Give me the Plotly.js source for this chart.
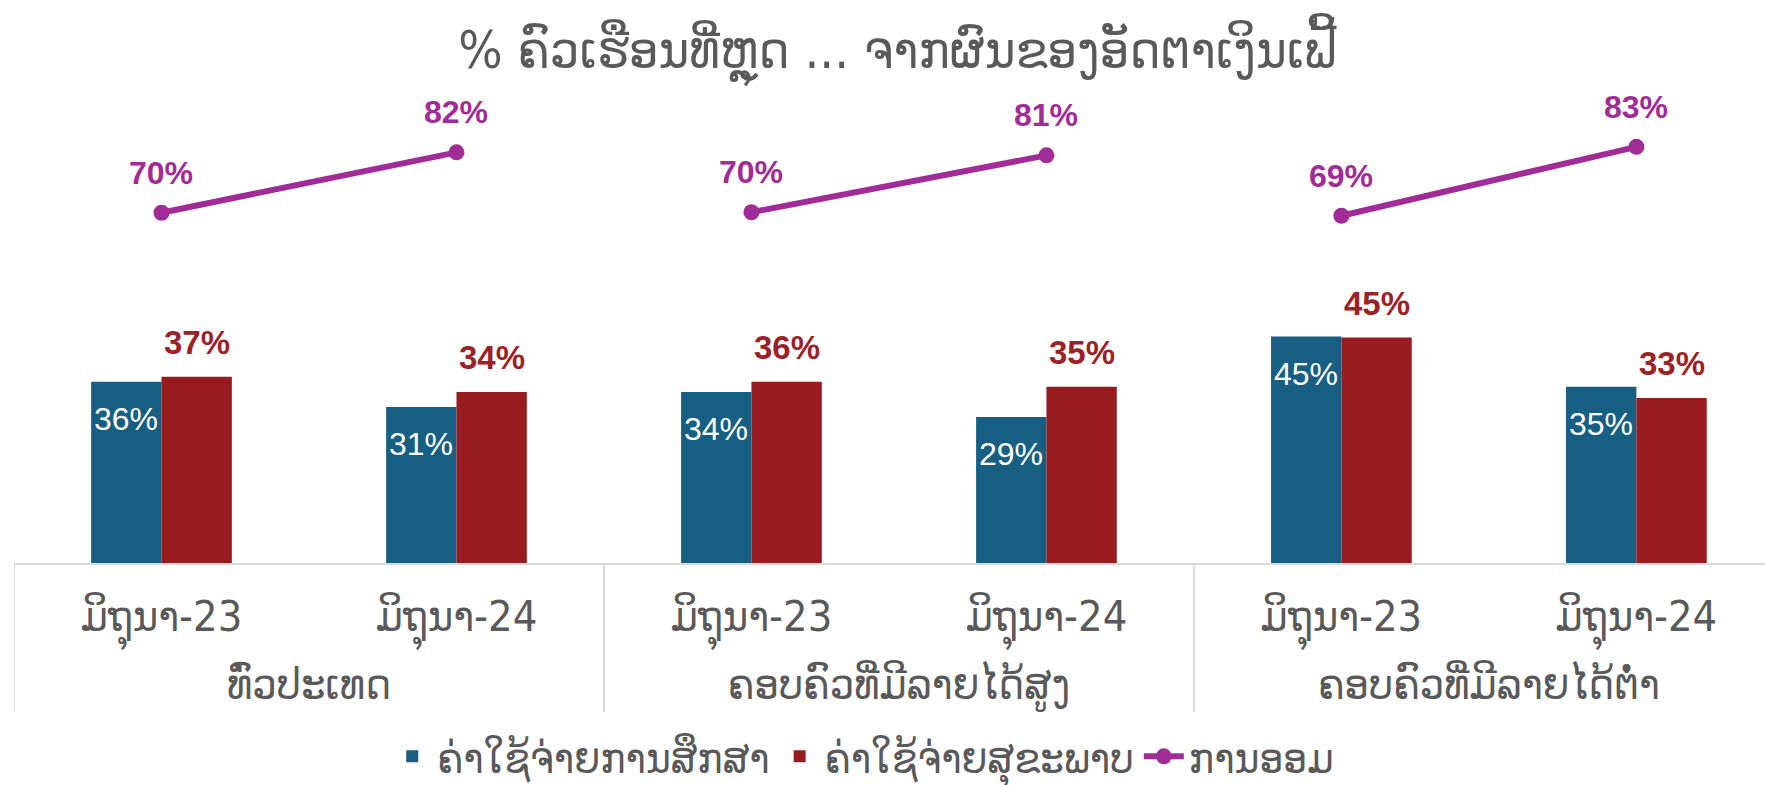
<!DOCTYPE html>
<html>
<head>
<meta charset="utf-8">
<script src="https://cdn.plot.ly/plotly-3.0.1.min.js"></script>
<style>html,body{margin:0;padding:0;background:#fff;}#chart{width:1765px;height:785px;}</style>
</head>
<body>
<div id="chart"></div>
<script>
// ---- data ----
const groups = ['ທົ່ວປະເທດ', 'ຄອບຄົວທີ່ມີລາຍໄດ້ສູງ', 'ຄອບຄົວທີ່ມີລາຍໄດ້ຕ່ຳ'];
const periods = ['ມິຖຸນາ-23', 'ມິຖຸນາ-24'];
const education = [36, 31, 34, 29, 45, 35];          // ຄ່າໃຊ້ຈ່າຍການສຶກສາ
const health = [37, 34, 36, 35, 44.8, 32.8];         // ຄ່າໃຊ້ຈ່າຍສຸຂະພາບ
const savings = [69.6, 81.6, 69.7, 81.0, 69.0, 82.7]; // ການອອມ
const seriesNames = ['ຄ່າໃຊ້ຈ່າຍການສຶກສາ', 'ຄ່າໃຊ້ຈ່າຍສຸຂະພາບ', 'ການອອມ'];
const titleText = '% ຄົວເຮືອນທີ່ຫຼຸດ ... ຈາກຜົນຂອງອັດຕາເງິນເຟີ້';

// ---- styles ----
const BLUE = '#175F82', RED = '#971B1F', PURPLE = '#A12B97', GREY = '#595959', LIGHT = '#D9D9D9';
const LAO = "'Liberation Sans Narrow', 'DejaVu Sans Condensed', 'DejaVu Sans', sans-serif";
const NUM = "'Liberation Sans', Arial, sans-serif";
const BARGAP = 0.523;
const XRANGE = [-0.5, 5.436];
const pct = v => Math.round(v) + '%';

// category keys (group + period), shown with the period as tick label
const xOuter = [], xInner = [];
groups.forEach(g => periods.forEach(p => { xOuter.push(g); xInner.push(p); }));
const xKeys = xOuter.map((g, i) => g + ' | ' + xInner[i]);
const nP = periods.length;
const groupCenters = groups.map((g, gi) => gi * nP + (nP - 1) / 2);
const groupEdges = groups.map((g, gi) => gi * nP - 0.5).concat([groups.length * nP - 0.5]);

const traces = [
  { type: 'bar', name: seriesNames[0], x: xKeys, y: education,
    marker: { color: BLUE }, hoverinfo: 'skip' },
  { type: 'bar', name: seriesNames[1], x: xKeys, y: health,
    marker: { color: RED }, hoverinfo: 'skip' }
];
groups.forEach((g, gi) => {
  const idx = periods.map((p, pi) => gi * nP + pi);
  traces.push({
    type: 'scatter', mode: 'lines+markers', name: seriesNames[2],
    legendgroup: 'sav', showlegend: gi === 0,
    x: idx.map(i => xKeys[i]), y: idx.map(i => savings[i]),
    line: { color: PURPLE, width: 6 }, marker: { color: PURPLE, size: 16 },
    hoverinfo: 'skip'
  });
});
// carrier for the group-label axis (no visible marks)
traces.push({ type: 'scatter', mode: 'markers', x: groupCenters, y: groupCenters.map(() => null),
  xaxis: 'x2', showlegend: false, hoverinfo: 'skip', marker: { opacity: 0 } });

const half = (1 - BARGAP) / 4;
const annotations = [];
education.forEach((v, i) => annotations.push({
  x: i - half, y: v, xref: 'x', yref: 'y', text: pct(v), showarrow: false,
  yanchor: 'top', yshift: -17, font: { family: NUM, size: 32, color: '#ffffff' }
}));
health.forEach((v, i) => annotations.push({
  x: i + half, y: v, xref: 'x', yref: 'y', text: '<b>' + pct(v) + '</b>', showarrow: false,
  yanchor: 'bottom', yshift: 14, font: { family: NUM, size: 33, color: '#9B2226' }
}));
savings.forEach((v, i) => annotations.push({
  x: i, y: v, xref: 'x', yref: 'y', text: '<b>' + pct(v) + '</b>', showarrow: false,
  yanchor: 'bottom', yshift: 20, font: { family: NUM, size: 32, color: PURPLE }
}));

const shapes = groupEdges.map(e => ({
  type: 'line', xref: 'x', yref: 'paper', x0: e, x1: e, y0: 0, y1: -0.322,
  line: { color: LIGHT, width: 2 }, layer: 'below'
}));

const layout = {
  width: 1765, height: 785,
  margin: { l: 14, r: 0, t: 100, b: 222, autoexpand: false },
  paper_bgcolor: '#ffffff', plot_bgcolor: '#ffffff',
  barmode: 'group', bargap: BARGAP, bargroupgap: 0,
  title: { text: titleText, x: 0.5045, xref: 'paper', xanchor: 'center', y: 0.936, yanchor: 'middle',
           font: { family: LAO, size: 52, color: GREY }, automargin: false },
  xaxis: {
    type: 'category', categoryorder: 'array', categoryarray: xKeys, range: XRANGE,
    tickmode: 'array', tickvals: xKeys, ticktext: xInner,
    showline: true, linecolor: LIGHT, linewidth: 2,
    ticks: '', showgrid: false, automargin: false, ticklabelstandoff: 14,
    tickfont: { family: LAO, size: 43, color: GREY }
  },
  xaxis2: {
    type: 'linear', overlaying: 'x', side: 'bottom', anchor: 'y', range: XRANGE,
    tickmode: 'array', tickvals: groupCenters, ticktext: groups,
    showline: false, showgrid: false, zeroline: false, ticks: '', automargin: false,
    ticklabelstandoff: 92, tickfont: { family: LAO, size: 43, color: GREY }
  },
  yaxis: { visible: false, range: [0, 92], showgrid: false, zeroline: false, fixedrange: true },
  legend: { orientation: 'h', x: 0.485, xanchor: 'center', y: -0.418, yanchor: 'middle',
            font: { family: LAO, size: 42, color: GREY }, itemwidth: 40, traceorder: 'normal' },
  annotations: annotations,
  shapes: shapes,
  showlegend: true
};

Plotly.newPlot('chart', traces, layout, { displayModeBar: false, staticPlot: true });
</script>
</body>
</html>
